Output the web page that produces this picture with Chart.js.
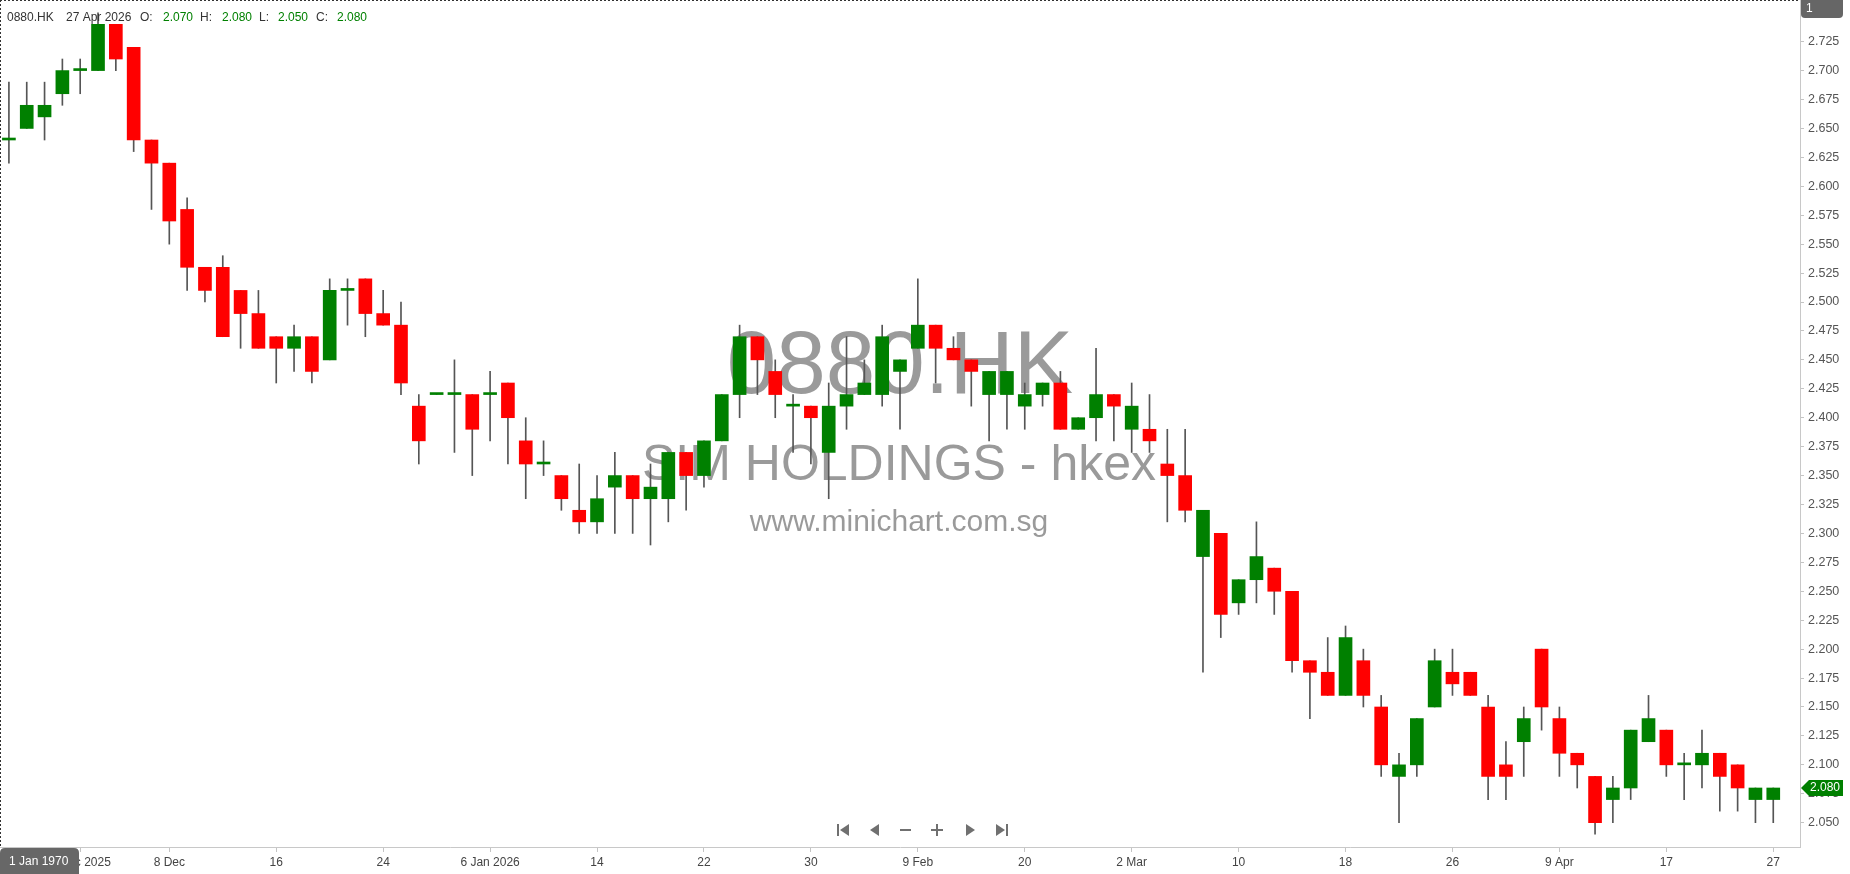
<!DOCTYPE html>
<html>
<head>
<meta charset="utf-8">
<title>0880.HK</title>
<script src="https://cdn.jsdelivr.net/npm/chart.js@4.4.1/dist/chart.umd.min.js"></script>
<style>
  html, body { margin: 0; padding: 0; background: #fff; overflow: hidden; }
  #wrap { width: 1850px; height: 874px; }
</style>
</head>
<body>
<div id="wrap"><canvas id="chart" width="1850" height="874"></canvas></div>
<script>
const dates = [
  "2025-11-25", "2025-11-26", "2025-11-27", "2025-11-28",
  "2025-12-01", "2025-12-02", "2025-12-03", "2025-12-04", "2025-12-05",
  "2025-12-08", "2025-12-09", "2025-12-10", "2025-12-11", "2025-12-12",
  "2025-12-15", "2025-12-16", "2025-12-17", "2025-12-18", "2025-12-19",
  "2025-12-22", "2025-12-23", "2025-12-24", "2025-12-29", "2025-12-30", "2025-12-31",
  "2026-01-02", "2026-01-05", "2026-01-06", "2026-01-07", "2026-01-08", "2026-01-09",
  "2026-01-12", "2026-01-13", "2026-01-14", "2026-01-15", "2026-01-16",
  "2026-01-19", "2026-01-20", "2026-01-21", "2026-01-22", "2026-01-23",
  "2026-01-26", "2026-01-27", "2026-01-28", "2026-01-29", "2026-01-30",
  "2026-02-02", "2026-02-03", "2026-02-04", "2026-02-05", "2026-02-06",
  "2026-02-09", "2026-02-10", "2026-02-11", "2026-02-12", "2026-02-13",
  "2026-02-16", "2026-02-20",
  "2026-02-23", "2026-02-24", "2026-02-25", "2026-02-26", "2026-02-27",
  "2026-03-02", "2026-03-03", "2026-03-04", "2026-03-05", "2026-03-06",
  "2026-03-09", "2026-03-10", "2026-03-11", "2026-03-12", "2026-03-13",
  "2026-03-16", "2026-03-17", "2026-03-18", "2026-03-19", "2026-03-20",
  "2026-03-23", "2026-03-24", "2026-03-25", "2026-03-26", "2026-03-27",
  "2026-03-30", "2026-03-31", "2026-04-01", "2026-04-02",
  "2026-04-09", "2026-04-10", "2026-04-13", "2026-04-14", "2026-04-15", "2026-04-16", "2026-04-17",
  "2026-04-20", "2026-04-21", "2026-04-22", "2026-04-23", "2026-04-24", "2026-04-27"
];

const open = [
  2.64, 2.65, 2.66, 2.68, 2.70, 2.70, 2.74, 2.72, 2.64, 2.62,
  2.58, 2.53, 2.53, 2.51, 2.49, 2.47, 2.46, 2.47, 2.45, 2.51,
  2.52, 2.49, 2.48, 2.41, 2.42, 2.42, 2.42, 2.42, 2.43, 2.38,
  2.36, 2.35, 2.32, 2.31, 2.34, 2.35, 2.33, 2.33, 2.37, 2.35,
  2.38, 2.42, 2.47, 2.44, 2.41, 2.41, 2.37, 2.41, 2.42, 2.42,
  2.44, 2.46, 2.48, 2.46, 2.45, 2.42, 2.42, 2.41, 2.42, 2.43,
  2.39, 2.40, 2.42, 2.39, 2.39, 2.36, 2.35, 2.28, 2.30, 2.24,
  2.26, 2.27, 2.25, 2.19, 2.18, 2.16, 2.19, 2.15, 2.09, 2.10,
  2.15, 2.18, 2.18, 2.15, 2.10, 2.12, 2.20, 2.14, 2.11, 2.09,
  2.07, 2.08, 2.12, 2.13, 2.10, 2.10, 2.11, 2.10, 2.07, 2.07
];
const high = [
  2.69, 2.69, 2.69, 2.71, 2.71, 2.75, 2.74, 2.72, 2.64, 2.62,
  2.59, 2.53, 2.54, 2.51, 2.51, 2.47, 2.48, 2.47, 2.52, 2.52,
  2.52, 2.51, 2.50, 2.42, 2.42, 2.45, 2.42, 2.44, 2.43, 2.40,
  2.38, 2.35, 2.36, 2.35, 2.37, 2.35, 2.36, 2.37, 2.37, 2.38,
  2.42, 2.48, 2.47, 2.45, 2.42, 2.41, 2.43, 2.47, 2.45, 2.48,
  2.45, 2.52, 2.48, 2.47, 2.45, 2.44, 2.44, 2.43, 2.43, 2.44,
  2.40, 2.46, 2.42, 2.43, 2.42, 2.39, 2.39, 2.32, 2.30, 2.26,
  2.31, 2.27, 2.25, 2.19, 2.21, 2.22, 2.20, 2.16, 2.11, 2.14,
  2.20, 2.20, 2.18, 2.16, 2.12, 2.15, 2.20, 2.15, 2.11, 2.09,
  2.09, 2.13, 2.16, 2.13, 2.11, 2.13, 2.11, 2.10, 2.08, 2.08
];
const low = [
  2.62, 2.65, 2.64, 2.67, 2.68, 2.70, 2.70, 2.63, 2.58, 2.55,
  2.51, 2.50, 2.47, 2.46, 2.46, 2.43, 2.44, 2.43, 2.45, 2.48,
  2.47, 2.48, 2.42, 2.36, 2.42, 2.37, 2.35, 2.38, 2.36, 2.33,
  2.35, 2.32, 2.30, 2.30, 2.30, 2.30, 2.29, 2.31, 2.32, 2.34,
  2.38, 2.40, 2.42, 2.40, 2.37, 2.36, 2.33, 2.39, 2.42, 2.41,
  2.39, 2.46, 2.43, 2.45, 2.41, 2.38, 2.39, 2.39, 2.41, 2.39,
  2.39, 2.38, 2.38, 2.37, 2.37, 2.31, 2.31, 2.18, 2.21, 2.23,
  2.24, 2.23, 2.18, 2.14, 2.16, 2.16, 2.15, 2.09, 2.05, 2.09,
  2.15, 2.16, 2.16, 2.07, 2.07, 2.09, 2.13, 2.09, 2.08, 2.04,
  2.05, 2.07, 2.12, 2.09, 2.07, 2.08, 2.06, 2.06, 2.05, 2.05
];
const close = [
  2.64, 2.67, 2.67, 2.70, 2.70, 2.74, 2.71, 2.64, 2.62, 2.57,
  2.53, 2.51, 2.47, 2.49, 2.46, 2.46, 2.47, 2.44, 2.51, 2.51,
  2.49, 2.48, 2.43, 2.38, 2.42, 2.42, 2.39, 2.42, 2.40, 2.36,
  2.36, 2.33, 2.31, 2.33, 2.35, 2.33, 2.34, 2.37, 2.35, 2.38,
  2.42, 2.47, 2.45, 2.42, 2.41, 2.40, 2.41, 2.42, 2.43, 2.47,
  2.45, 2.48, 2.46, 2.45, 2.44, 2.44, 2.44, 2.42, 2.43, 2.39,
  2.40, 2.42, 2.41, 2.41, 2.38, 2.35, 2.32, 2.32, 2.23, 2.26,
  2.28, 2.25, 2.19, 2.18, 2.16, 2.21, 2.16, 2.10, 2.10, 2.14,
  2.19, 2.17, 2.16, 2.09, 2.09, 2.14, 2.15, 2.11, 2.10, 2.05,
  2.08, 2.13, 2.14, 2.10, 2.10, 2.11, 2.09, 2.08, 2.08, 2.08
];

const yTicks = [
  2.050, 2.075, 2.100, 2.125, 2.150, 2.175, 2.200, 2.225, 2.250, 2.275,
  2.300, 2.325, 2.350, 2.375, 2.400, 2.425, 2.450, 2.475, 2.500, 2.525,
  2.550, 2.575, 2.600, 2.625, 2.650, 2.675, 2.700, 2.725
];
const tickDates = [
  "2025-12-01", "2025-12-08", "2025-12-16", "2025-12-24", "2026-01-06", "2026-01-14",
  "2026-01-22", "2026-01-30", "2026-02-09", "2026-02-20", "2026-03-02", "2026-03-10",
  "2026-03-18", "2026-03-26", "2026-04-09", "2026-04-17", "2026-04-27"
];
const tickLabels = [
  "1 Dec 2025", "8 Dec", "16", "24", "6 Jan 2026", "14",
  "22", "30", "9 Feb", "20", "2 Mar", "10",
  "18", "26", "9 Apr", "17", "27"
];

const symbol = "0880.HK";
const company = "SIM HOLDINGS - hkex";
const site = "www.minichart.com.sg";
const lastDateText = "27 Apr 2026";

const GREEN = "#008000";
const RED = "#ff0000";
const FONT = "'Liberation Sans', Arial, sans-serif";

const tickIdx = tickDates.map((d) => dates.indexOf(d));
const last = dates.length - 1;

const bodies = dates.map((d, i) => ({ x: i, y: [open[i], close[i]] }));
const wicks = dates.map((d, i) => ({ x: i, y: [low[i], high[i]] }));
const bodyColors = dates.map((d, i) => (close[i] >= open[i] ? GREEN : RED));

const roundBox = (ctx, x, y, w, h, r) => {
  ctx.beginPath();
  ctx.moveTo(x + r, y);
  ctx.lineTo(x + w - r, y);
  ctx.quadraticCurveTo(x + w, y, x + w, y + r);
  ctx.lineTo(x + w, y + h - r);
  ctx.quadraticCurveTo(x + w, y + h, x + w - r, y + h);
  ctx.lineTo(x + r, y + h);
  ctx.quadraticCurveTo(x, y + h, x, y + h - r);
  ctx.lineTo(x, y + r);
  ctx.quadraticCurveTo(x, y, x + r, y);
  ctx.closePath();
};

const noPadding = (scale) => {
  scale.paddingTop = 0;
  scale.paddingBottom = 0;
  scale.paddingLeft = 0;
  scale.paddingRight = 0;
};

const watermark = {
  id: "watermark",
  beforeDatasetsDraw(chart) {
    const ctx = chart.ctx;
    ctx.save();
    ctx.fillStyle = "rgba(115,115,115,0.72)";
    ctx.textAlign = "center";
    ctx.textBaseline = "middle";
    ctx.font = "89px " + FONT;
    ctx.fillText(symbol, 900, 368);
    ctx.font = "50px " + FONT;
    ctx.fillText(company, 899, 466);
    ctx.font = "30px " + FONT;
    ctx.fillText(site, 899, 523);
    ctx.restore();
  },
};

const overlay = {
  id: "overlay",
  afterDraw(chart) {
    const ctx = chart.ctx;
    const yScale = chart.scales.y;
    const right = chart.chartArea.right;
    const bottom = chart.chartArea.bottom;
    ctx.save();

    // dotted frame
    ctx.strokeStyle = "#333";
    ctx.lineWidth = 1;
    ctx.setLineDash([2, 2]);
    ctx.beginPath();
    ctx.moveTo(0, 0.5);
    ctx.lineTo(right, 0.5);
    ctx.moveTo(0.5, 0);
    ctx.lineTo(0.5, bottom);
    ctx.stroke();
    ctx.setLineDash([]);

    // header
    ctx.font = "12px " + FONT;
    ctx.textBaseline = "middle";
    ctx.textAlign = "left";
    const up = close[last] >= open[last] ? GREEN : RED;
    const parts = [
      [symbol, 7, "#333"], [lastDateText, 66, "#333"],
      ["O:", 140, "#333"], [open[last].toFixed(3), 163, up],
      ["H:", 200, "#333"], [high[last].toFixed(3), 222, up],
      ["L:", 259, "#333"], [low[last].toFixed(3), 278, up],
      ["C:", 316, "#333"], [close[last].toFixed(3), 337, up],
    ];
    parts.forEach(([t, x, c]) => {
      ctx.fillStyle = c;
      ctx.fillText(t, x, 18);
    });

    // pane number box
    ctx.fillStyle = "#666";
    roundBox(ctx, 1801, -5, 42, 23, 4);
    ctx.fill();
    ctx.fillStyle = "#fff";
    ctx.font = "12px " + FONT;
    ctx.fillText("1", 1806, 9);

    // last price marker
    const py = yScale.getPixelForValue(close[last]);
    ctx.fillStyle = up;
    ctx.beginPath();
    ctx.moveTo(1801, py);
    ctx.lineTo(1809, py - 8);
    ctx.lineTo(1843, py - 8);
    ctx.lineTo(1843, py + 8);
    ctx.lineTo(1809, py + 8);
    ctx.closePath();
    ctx.fill();
    ctx.fillStyle = "#fff";
    ctx.font = "12px " + FONT;
    ctx.fillText(close[last].toFixed(3), 1810, py);

    // date box bottom-left
    ctx.fillStyle = "#676767";
    roundBox(ctx, 0, 848, 79, 32, 5);
    ctx.fill();
    ctx.fillStyle = "#fff";
    ctx.font = "12px " + FONT;
    ctx.fillText("1 Jan 1970", 9, 862);

    // navigation icons
    const ny = 830;
    ctx.fillStyle = "#707070";
    ctx.fillRect(837, ny - 6, 2, 12);
    ctx.beginPath();
    ctx.moveTo(840, ny); ctx.lineTo(849, ny - 6); ctx.lineTo(849, ny + 6); ctx.closePath();
    ctx.fill();
    ctx.beginPath();
    ctx.moveTo(870, ny); ctx.lineTo(879, ny - 6); ctx.lineTo(879, ny + 6); ctx.closePath();
    ctx.fill();
    ctx.fillRect(900, ny - 1, 11, 2);
    ctx.fillRect(931, ny - 1, 12, 2);
    ctx.fillRect(936, ny - 6, 2, 12);
    ctx.beginPath();
    ctx.moveTo(975, ny); ctx.lineTo(966, ny - 6); ctx.lineTo(966, ny + 6); ctx.closePath();
    ctx.fill();
    ctx.beginPath();
    ctx.moveTo(1005, ny); ctx.lineTo(996, ny - 6); ctx.lineTo(996, ny + 6); ctx.closePath();
    ctx.fill();
    ctx.fillRect(1006, ny - 6, 2, 12);

    ctx.restore();
  },
};

new Chart(document.getElementById("chart"), {
  type: "bar",
  data: {
    datasets: [
      {
        label: "Body",
        data: bodies,
        backgroundColor: bodyColors,
        borderWidth: 0,
        barThickness: 13,
        minBarLength: 2,
        grouped: false,
        order: 0,
      },
      {
        label: "Wick",
        data: wicks,
        backgroundColor: "#555",
        borderWidth: 0,
        barThickness: 1,
        grouped: false,
        order: 1,
      },
    ],
  },
  options: {
    responsive: false,
    animation: false,
    devicePixelRatio: 1,
    layout: { padding: 0 },
    plugins: {
      legend: { display: false },
      tooltip: { enabled: false },
    },
    scales: {
      x: {
        type: "linear",
        position: "bottom",
        offset: false,
        min: -0.5,
        max: 100.5,
        afterBuildTicks: (scale) => {
          scale.ticks = tickIdx.map((i) => ({ value: i }));
        },
        afterFit: (scale) => {
          scale.height = 27;
          noPadding(scale);
        },
        ticks: {
          autoSkip: false,
          maxRotation: 0,
          padding: 3,
          color: "#444",
          font: { family: FONT, size: 12 },
          callback: (v) => tickLabels[tickIdx.indexOf(v)] || "",
        },
        grid: {
          offset: false,
          drawOnChartArea: false,
          drawTicks: true,
          tickLength: 5,
          color: "#c4c4c4",
        },
        border: { display: true, color: "#c8c8c8" },
      },
      y: {
        type: "linear",
        position: "right",
        min: 2.029,
        max: 2.761,
        afterBuildTicks: (scale) => {
          scale.ticks = yTicks.map((v) => ({ value: v }));
        },
        afterFit: (scale) => {
          scale.width = 50;
          noPadding(scale);
        },
        ticks: {
          padding: 4,
          color: "#555",
          font: { family: FONT, size: 12.5 },
          callback: (v) => v.toFixed(3),
        },
        grid: {
          drawOnChartArea: false,
          drawTicks: true,
          tickLength: 4,
          color: "#c4c4c4",
        },
        border: { display: true, color: "#c8c8c8" },
      },
    },
  },
  plugins: [watermark, overlay],
});
</script>
</body>
</html>
